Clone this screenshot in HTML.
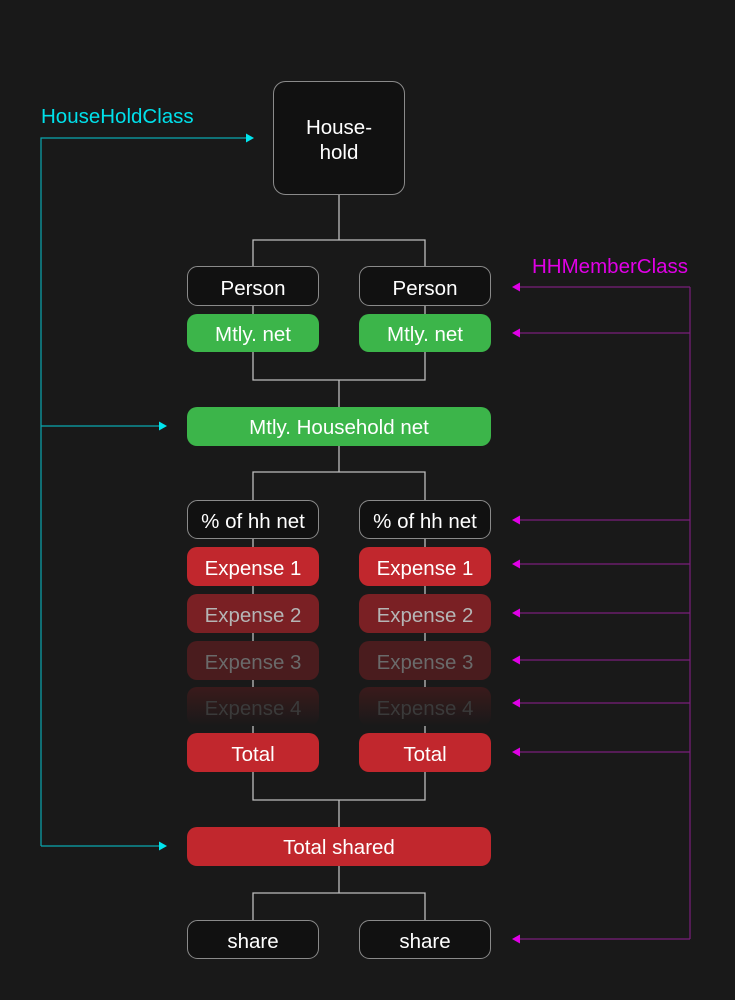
<!DOCTYPE html>
<html><head><meta charset="utf-8"><style>
html,body{margin:0;padding:0;background:#191919;}
svg{display:block;}
text{font-family:"Liberation Sans",sans-serif;}
</style></head><body>
<svg width="735" height="1000" viewBox="0 0 735 1000" xmlns="http://www.w3.org/2000/svg">
<defs>
<linearGradient id="g4" x1="0" y1="0" x2="0" y2="1">
<stop offset="0" stop-color="#3a1a1b"/><stop offset="1" stop-color="#191919"/>
</linearGradient>
</defs>
<rect width="735" height="1000" fill="#191919"/>
<g stroke="#bdbdbd" stroke-width="1.3" fill="none">
<path d="M339 195V240M253 267V240H425V267"/>
<path d="M253 306V314M425 306V314"/>
<path d="M253 352V380H425V352M339 380V407"/>
<path d="M339 446V472M253 500V472H425V500"/>
<path d="M253 539V547M425 539V547M253 586V594M425 586V594M253 633V641M425 633V641M253 680V687M425 680V687M253 726V733M425 726V733"/>
<path d="M253 772V800H425V772M339 800V827"/>
<path d="M339 866V893M253 920V893H425V920"/>
</g>
<rect x="273.5" y="81.5" width="131" height="113" rx="12" fill="#111" stroke="#8a8a8a"/>
<text x="339" y="134" fill="#fff" font-size="20.5" text-anchor="middle">House-</text>
<text x="339" y="159" fill="#fff" font-size="20.5" text-anchor="middle">hold</text>
<g font-size="20.5" text-anchor="middle">
<rect x="187.5" y="266.5" width="131" height="39" rx="10" fill="#111" stroke="#8a8a8a"/>
<rect x="359.5" y="266.5" width="131" height="39" rx="10" fill="#111" stroke="#8a8a8a"/>
<text x="253" y="295" fill="#fff">Person</text><text x="425" y="295" fill="#fff">Person</text>
<rect x="187" y="314" width="132" height="38" rx="10" fill="#3cb54a"/>
<rect x="359" y="314" width="132" height="38" rx="10" fill="#3cb54a"/>
<text x="253" y="341" fill="#fff">Mtly. net</text><text x="425" y="341" fill="#fff">Mtly. net</text>
<rect x="187" y="407" width="304" height="39" rx="10" fill="#3cb54a"/>
<text x="339" y="434" fill="#fff">Mtly. Household net</text>
<rect x="187.5" y="500.5" width="131" height="38" rx="10" fill="#111" stroke="#8a8a8a"/>
<rect x="359.5" y="500.5" width="131" height="38" rx="10" fill="#111" stroke="#8a8a8a"/>
<text x="253" y="528" fill="#fff">% of hh net</text><text x="425" y="528" fill="#fff">% of hh net</text>
<rect x="187" y="547" width="132" height="39" rx="10" fill="#c1272d"/>
<rect x="359" y="547" width="132" height="39" rx="10" fill="#c1272d"/>
<text x="253" y="575" fill="#fff">Expense 1</text><text x="425" y="575" fill="#fff">Expense 1</text>
<rect x="187" y="594" width="132" height="39" rx="10" fill="#7a2024"/>
<rect x="359" y="594" width="132" height="39" rx="10" fill="#7a2024"/>
<text x="253" y="622" fill="#b5b5b5">Expense 2</text><text x="425" y="622" fill="#b5b5b5">Expense 2</text>
<rect x="187" y="641" width="132" height="39" rx="10" fill="#4a1c1e"/>
<rect x="359" y="641" width="132" height="39" rx="10" fill="#4a1c1e"/>
<text x="253" y="669" fill="#6a6a6a">Expense 3</text><text x="425" y="669" fill="#6a6a6a">Expense 3</text>
<rect x="187" y="687" width="132" height="39" rx="10" fill="url(#g4)"/>
<rect x="359" y="687" width="132" height="39" rx="10" fill="url(#g4)"/>
<text x="253" y="715" fill="#3a3a3a">Expense 4</text><text x="425" y="715" fill="#3a3a3a">Expense 4</text>
<rect x="187" y="733" width="132" height="39" rx="10" fill="#c1272d"/>
<rect x="359" y="733" width="132" height="39" rx="10" fill="#c1272d"/>
<text x="253" y="761" fill="#fff">Total</text><text x="425" y="761" fill="#fff">Total</text>
<rect x="187" y="827" width="304" height="39" rx="10" fill="#c1272d"/>
<text x="339" y="854" fill="#fff">Total shared</text>
<rect x="187.5" y="920.5" width="131" height="38" rx="10" fill="#111" stroke="#8a8a8a"/>
<rect x="359.5" y="920.5" width="131" height="38" rx="10" fill="#111" stroke="#8a8a8a"/>
<text x="253" y="948" fill="#fff">share</text><text x="425" y="948" fill="#fff">share</text>
</g>
<text x="41" y="123" fill="#00e0ea" font-size="20.5">HouseHoldClass</text>
<g stroke="#0aa8b0" stroke-width="1.2" fill="none">
<path d="M41 846V138H247M41 426H160M41 846H160"/>
</g>
<g fill="#00e5ee">
<path d="M254 138l-8-4.5v9z"/><path d="M167 426l-8-4.5v9z"/><path d="M167 846l-8-4.5v9z"/>
</g>
<text x="532" y="273" fill="#e000e6" font-size="20.5">HHMemberClass</text>
<g stroke="#7a1f7c" stroke-width="1.2" fill="none">
<path d="M690 287V939"/>
<path d="M518 287H690M518 333H690M518 520H690M518 564H690M518 613H690M518 660H690M518 703H690M518 752H690M518 939H690"/>
</g>
<g fill="#e000e6">
<path d="M512 287l8-4.5v9z"/><path d="M512 333l8-4.5v9z"/><path d="M512 520l8-4.5v9z"/><path d="M512 564l8-4.5v9z"/><path d="M512 613l8-4.5v9z"/><path d="M512 660l8-4.5v9z"/><path d="M512 703l8-4.5v9z"/><path d="M512 752l8-4.5v9z"/><path d="M512 939l8-4.5v9z"/>
</g>
</svg>
</body></html>
